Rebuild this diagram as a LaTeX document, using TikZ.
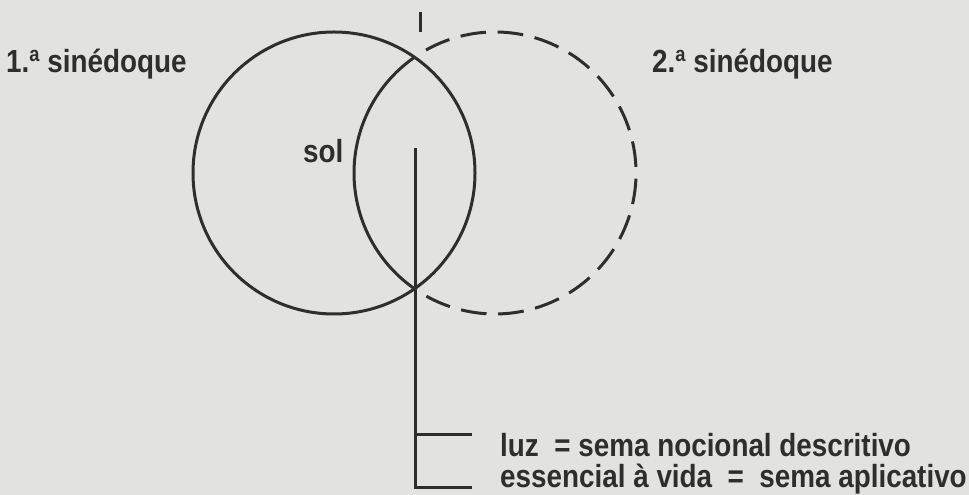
\documentclass[tikz,border=0pt]{standalone}
\usepackage{fontspec}
\setmainfont{Liberation Sans}[FakeStretch=0.87]
\usepackage{xcolor}
\usetikzlibrary{calc}
\definecolor{paper}{RGB}{226,226,224}
\definecolor{ink}{RGB}{46,46,46}
\newcommand{\ordA}{\raisebox{0.36em}{\fontsize{21}{21}\selectfont a}}

\begin{document}
\begin{tikzpicture}[x=1pt,y=1pt,
    stroke/.style={ink, line width=3pt},
    dashedarc/.style={stroke, dash pattern=on 25.7pt off 11.7pt},
    lbl/.style={inner sep=0pt, text=ink, font=\fontsize{32}{33}\selectfont\bfseries}]
\fill[paper] (0,0) rectangle (969,495);
\useasboundingbox (0,0) rectangle (969,495);

% the two circles
\coordinate (cL) at (334,322);
\coordinate (cR) at (495,322);
\draw[stroke] (cL) circle[radius=141pt];
\draw[stroke] ($(cR)+(124.8:141pt)$) arc[start angle=124.8,end angle=235.2,radius=141pt];
\draw[dashedarc] ($(cR)+(119.3:141pt)$) arc[start angle=119.3,end angle=-119.3,radius=141pt];

% stem with its ticks
\coordinate (stemtop) at (415,347);
\coordinate (stembot) at (415,7);
\coordinate (tickin) at (415,60);
\coordinate (tickout) at (472,60);
\coordinate (footout) at (472,7);
\coordinate (marktop) at (420,483);
\coordinate (markbot) at (420,463);
\draw[stroke] (stemtop) -- (stembot) -- (footout);
\draw[stroke] (tickin) -- (tickout);
\draw[stroke] (marktop) -- (markbot);

% labels
\node[lbl, anchor=base west] (first) at (6,422) {1.\ordA\ sinédoque};
\node[lbl, anchor=base west] (second) at (652,422) {2.\ordA\ sinédoque};
\node[lbl, anchor=base west] (sol) at (303,332) {sol};
\node[lbl, anchor=base west] (luz) at (500,38) {luz~~=~sema nocional descritivo};
\node[lbl, anchor=base west] (vida) at (500,7) {essencial à vida~~=~~sema aplicativo};
\end{tikzpicture}
\end{document}
